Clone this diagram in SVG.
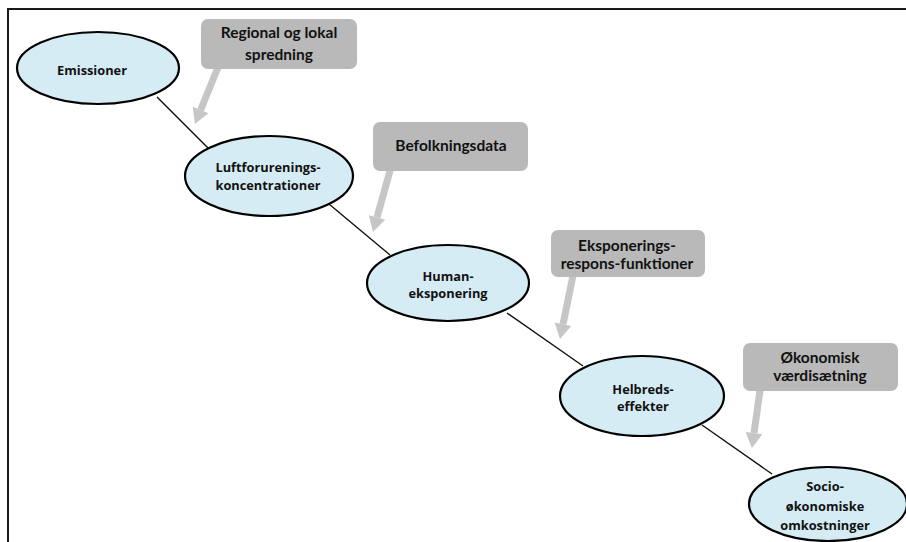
<svg xmlns="http://www.w3.org/2000/svg" width="906" height="542" viewBox="0 0 906 542">
<style>
.frame{fill:#ffffff;stroke:#1a1a1a;stroke-width:2}
.node ellipse{fill:#d6ecf4;stroke:#000;stroke-width:2.2}
.node text{font-family:"Open Sans","Liberation Sans",sans-serif;font-weight:700;font-size:12.8px;fill:#111;text-anchor:middle}
.box rect{fill:#b9b9b9}
.box text{font-family:Lato,"Liberation Sans",sans-serif;font-weight:700;font-size:15.5px;fill:#111;text-anchor:middle}
.link{stroke:#111;stroke-width:1.4;fill:none}
.arrow{stroke:#c6c6c6;stroke-width:7;fill:none;marker-end:url(#head)}
</style>
<defs>
<marker id="head" markerUnits="userSpaceOnUse" markerWidth="16" markerHeight="18" refX="0" refY="8.5" orient="auto" viewBox="0 0 16 17" overflow="visible">
<path d="M0,0 L15,8.5 L0,17 Z" fill="#c6c6c6"/>
</marker>
</defs>
<rect class="frame" x="8" y="9" width="910" height="545"/>
<g id="connectors">
<line class="link" x1="157" y1="97" x2="208" y2="148"/>
<line class="link" x1="329" y1="204" x2="390" y2="255"/>
<line class="link" x1="507" y1="313" x2="583" y2="366"/>
<line class="link" x1="702" y1="425" x2="772" y2="474"/>
<line class="arrow" x1="221" y1="60" x2="200.6" y2="110"/>
<line class="arrow" x1="393" y1="160" x2="377" y2="217.5"/>
<line class="arrow" x1="575" y1="266" x2="563" y2="324.3"/>
<line class="arrow" x1="761.5" y1="380" x2="754" y2="433.1"/>
</g>
<g id="callout-spredning" class="box">
<rect x="201" y="19" width="156" height="50" rx="7"/>
<text x="279" y="38">Regional og lokal</text>
<text x="279" y="60">spredning</text>
</g>
<g id="callout-befolkning" class="box">
<rect x="373" y="122" width="155" height="49" rx="7"/>
<text x="451" y="151">Befolkningsdata</text>
</g>
<g id="callout-respons" class="box">
<rect x="551" y="230" width="154" height="47" rx="7"/>
<text x="627" y="251">Eksponerings-</text>
<text x="627" y="269">respons-funktioner</text>
</g>
<g id="callout-vaerdi" class="box">
<rect x="743" y="343" width="155" height="48" rx="7"/>
<text x="820" y="363">Økonomisk</text>
<text x="820" y="381">værdisætning</text>
</g>
<g id="node-emissioner" class="node">
<ellipse cx="98" cy="68" rx="81" ry="36"/>
<text x="92" y="75">Emissioner</text>
</g>
<g id="node-luft" class="node">
<ellipse cx="269" cy="176" rx="84" ry="40"/>
<text x="268" y="172">Luftforurenings-</text>
<text x="268" y="190">koncentrationer</text>
</g>
<g id="node-human" class="node">
<ellipse cx="448" cy="283" rx="81" ry="38"/>
<text x="448" y="281">Human-</text>
<text x="448" y="298">eksponering</text>
</g>
<g id="node-helbred" class="node">
<ellipse cx="642" cy="396" rx="82" ry="40"/>
<text x="643" y="394">Helbreds-</text>
<text x="643" y="411">effekter</text>
</g>
<g id="node-socio" class="node">
<ellipse cx="828" cy="504" rx="79" ry="37"/>
<text x="825" y="491">Socio-</text>
<text x="825" y="511">økonomiske</text>
<text x="825" y="530">omkostninger</text>
</g>
</svg>
